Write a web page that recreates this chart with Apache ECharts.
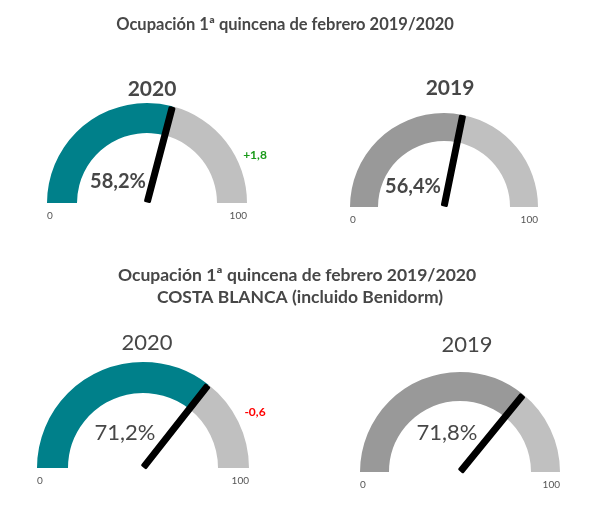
<!DOCTYPE html>
<html>
<head>
<meta charset="utf-8">
<script src="https://cdn.jsdelivr.net/npm/echarts@6/dist/echarts.min.js"></script>
<style>
html,body{margin:0;padding:0;background:#fff;}
#chart{width:598px;height:512px;}
</style>
</head>
<body>
<div id="chart"></div>
<script>
// ---- data ----
const years = ['2020', '2019', '2020', '2019'];
const values = [58.2, 56.4, 71.2, 71.8];
const tickLabels = ['0', '100'];
const titleTop = 'Ocupación 1ª quincena de febrero 2019/2020';
const titleBottom1 = 'Ocupación 1ª quincena de febrero 2019/2020';
const titleBottom2 = 'COSTA BLANCA (incluido Benidorm)';

// ---- layout (positions & styles) ----
const FONT = 'Lato';
const TEAL = '#00808a';
const DGRAY = '#999999';
const LGRAY = '#c0c0c0';
const TXT = '#474747';
const layout = [
  {cx:147, cy:203, r:100, w:30, color:TEAL,  detail:[-29,-21], title:[5,-114], bold:true,  dsize:20, tsize:21},
  {cx:444, cy:207, r:94,  w:28, color:DGRAY, detail:[-31,-20], title:[6,-119], bold:true,  dsize:20, tsize:21},
  {cx:143, cy:468, r:106, w:31, color:TEAL,  detail:[-18,-35], title:[4,-125], bold:false, dsize:22, tsize:22},
  {cx:460, cy:472, r:100, w:29, color:DGRAY, detail:[-13,-39], title:[7,-127], bold:false, dsize:22, tsize:22}
];

function fmt(v, d){ return v.toFixed(d).replace('.', ','); }

const series = values.map((v, i) => {
  const L = layout[i];
  return {
    type: 'gauge',
    center: [L.cx, L.cy],
    radius: L.r,
    startAngle: 180,
    endAngle: 0,
    min: 0,
    max: 100,
    animation: false,
    axisLine: {lineStyle: {width: L.w, color: [[v / 100, L.color], [1, LGRAY]]}},
    splitLine: {show: false},
    axisTick: {show: false},
    axisLabel: {show: false},
    anchor: {show: false},
    pointer: {
      icon: 'rect',
      length: '96%',
      width: 4,
      offsetCenter: [0, -2],
      itemStyle: {color: '#000', borderColor: '#000', borderWidth: 3, borderJoin: 'round', borderCap: 'round'}
    },
    title: {
      offsetCenter: L.title,
      fontFamily: FONT,
      fontSize: L.tsize,
      fontWeight: L.bold ? 'bold' : 'normal',
      color: TXT
    },
    detail: {
      offsetCenter: L.detail,
      fontFamily: FONT,
      fontSize: L.dsize,
      fontWeight: L.bold ? 'bold' : 'normal',
      color: TXT,
      formatter: (val) => fmt(val, 1) + '%'
    },
    data: [{value: v, name: years[i]}]
  };
});

const graphics = [];
function txt(x, y, text, size, weight, color, align) {
  graphics.push({type: 'text', x: x, y: y, silent: true,
    style: {text: text, fontFamily: FONT, fontSize: size, fontWeight: weight, fill: color,
            textAlign: align || 'center', textVerticalAlign: 'middle'}});
}
txt(285, 25, titleTop, 16.5, 'bold', TXT);
txt(297, 275, titleBottom1, 17.5, 'bold', TXT);
txt(300, 297, titleBottom2, 17.5, 'bold', TXT);

layout.forEach((L, i) => {
  txt(L.cx - L.r, L.cy + 13, tickLabels[0], 10, 'normal', '#555', 'left');
  txt(L.cx + L.r, L.cy + 13, tickLabels[1], 10, 'normal', '#555', 'right');
});

// change vs previous year
[[0, 1, 255, 155], [2, 3, 255, 412]].forEach(([a, b, x, y]) => {
  const d = values[a] - values[b];
  const s = (d >= 0 ? '+' : '-') + fmt(Math.abs(d), 1);
  txt(x, y, s, 12, 'bold', d >= 0 ? '#1a9a1a' : '#ff0000');
});

const chart = echarts.init(document.getElementById('chart'), null, {renderer: 'canvas'});
chart.setOption({
  backgroundColor: '#fff',
  animation: false,
  series: series,
  graphic: graphics
});
</script>
</body>
</html>
